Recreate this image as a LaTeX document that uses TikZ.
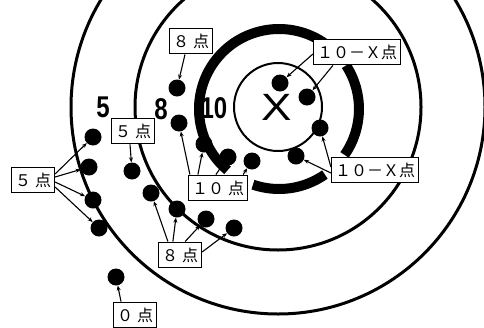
\documentclass[tikz,border=0pt]{standalone}
\usepackage{fontspec}
\newfontfamily\cjk{Noto Sans CJK JP}
\newfontfamily\lsans{Liberation Sans}
\usetikzlibrary{arrows.meta}
\newcommand{\gp}{\hspace{4pt}}
\begin{document}
\begin{tikzpicture}[x=1pt,y=1pt,
  ring/.style={line width=3pt},
  thickring/.style={line width=10pt},
  dot/.style={circle,fill=black,inner sep=0pt,minimum size=17pt},
  lbl/.style={draw,line width=1.2pt,fill=white,inner xsep=3.5pt,inner ysep=5.5pt,font=\cjk\fontsize{16}{16}\selectfont},
  arr/.style={line width=1.1pt,-{Stealth[length=5pt,width=4pt]}},
  ringnum/.style={font=\lsans\bfseries\fontsize{30}{30}\selectfont,inner sep=0pt}]
\useasboundingbox (0,0) rectangle (484,-327);
\clip (0,0) rectangle (484,-327);
% rings
\coordinate (C) at (278,-107);
\coordinate (T) at (279,-109);
\draw[ring] (C) circle[radius=207];
\draw[ring] (C) circle[radius=143];
\draw[line width=2pt] (C) circle[radius=44];
\draw[thickring] (T) ++(54:80) arc[start angle=54,end angle=230,radius=80];
\draw[thickring] (T) ++(-35:80) arc[start angle=-35,end angle=33,radius=80];
\draw[thickring] (T) ++(-109:80) arc[start angle=-109,end angle=-55,radius=80];
% ring numbers
\node[ringnum] (n5) at (103,-107) {\scalebox{0.8}[1]{5}};
\node[ringnum] (n8) at (161,-109) {\scalebox{0.8}[1]{8}};
\node[ringnum] (n10) at (214,-108) {\scalebox{0.8}[1]{10}};
\node[font=\lsans\fontsize{38}{38}\selectfont,inner sep=0pt] (nx) at (277,-107) {\scalebox{1.2}[1]{X}};
% dots
\node[dot] (d1) at (177,-88) {};
\node[dot] (d2) at (179,-123) {};
\node[dot] (d3) at (204,-144) {};
\node[dot] (d4) at (228,-157) {};
\node[dot] (d5) at (252,-161) {};
\node[dot] (d6) at (296,-156) {};
\node[dot] (d7) at (320,-128) {};
\node[dot] (d8) at (307,-97) {};
\node[dot] (d9) at (280,-83) {};
\node[dot] (d10) at (93,-137) {};
\node[dot] (d11) at (89,-167) {};
\node[dot] (d12) at (93,-200) {};
\node[dot] (d13) at (99,-228) {};
\node[dot] (d14) at (132,-171) {};
\node[dot] (d15) at (151,-193) {};
\node[dot] (d16) at (177,-209) {};
\node[dot] (d17) at (206,-219) {};
\node[dot] (d18) at (234,-228) {};
\node[dot] (d19) at (116,-277) {};
% labels
\node[lbl] (b8t) at (191,-41) {８\gp 点};
\node[lbl] (b5m) at (133,-131) {５\gp 点};
\node[lbl] (b5l) at (33,-180) {５\gp 点};
\node[lbl] (b10) at (218,-188) {１０\gp 点};
\node[lbl] (bx1) at (357,-52) {１０－Ｘ点};
\node[lbl] (bx2) at (375,-170) {１０－Ｘ点};
\node[lbl] (b8b) at (180,-255) {８\gp 点};
\node[lbl] (b0) at (135,-315) {０\gp 点};
% connectors
\draw[arr] ([xshift=-6pt]b8t.south) -- (d1);
\draw[arr] ([xshift=-3pt]b5m.south) -- (d14);
\draw[arr] ([yshift=6pt]b5l.east) -- (d10);
\draw[arr] ([yshift=3pt]b5l.east) -- (d11);
\draw[arr] ([yshift=-2pt]b5l.east) -- (d12);
\draw[arr] ([yshift=-7pt]b5l.east) -- (d13);
\draw[arr] ([xshift=2pt]b10.north west) -- (d2);
\draw[arr] ([xshift=10pt]b10.north west) -- (d3);
\draw[arr] ([xshift=28pt]b10.north west) -- (d4);
\draw[arr] ([xshift=-5pt]b10.north east) -- (d5);
\draw[arr] ([yshift=-2pt]bx1.west) -- (d9);
\draw[arr] ([xshift=20pt]bx1.south west) -- (d8);
\draw[arr] ([yshift=3pt]bx2.west) -- (d7);
\draw[arr] ([yshift=-3pt]bx2.west) -- (d6);
\draw[arr] ([xshift=10pt]b8b.north west) -- (d15);
\draw[arr] ([xshift=15pt]b8b.north west) -- (d16);
\draw[arr] ([xshift=-17pt]b8b.north east) -- (d17);
\draw[arr] ([yshift=3pt]b8b.east) -- (d18);
\draw[arr] ([xshift=-14pt]b0.north) -- (d19);
\end{tikzpicture}
\end{document}
